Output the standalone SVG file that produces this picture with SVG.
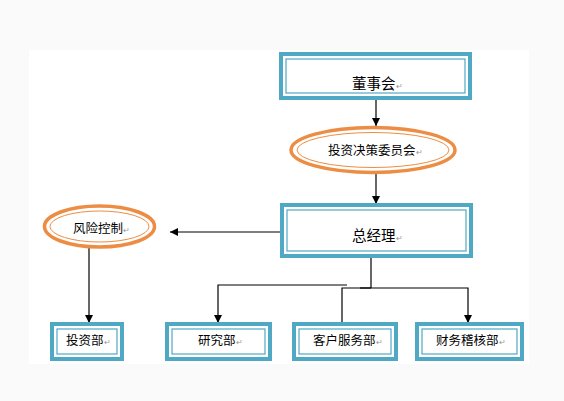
<svg xmlns="http://www.w3.org/2000/svg" width="564" height="401" viewBox="0 0 564 401">
<defs>
<marker id="ah" markerWidth="8" markerHeight="8" refX="8" refY="4" orient="auto" markerUnits="userSpaceOnUse">
<path d="M0,0 L8,4 L0,8 z" fill="#000"/>
</marker>
<style>
.bo{fill:#fff;stroke:#4fa9c4;stroke-width:4}
.bi{fill:none;stroke:#4fa9c4;stroke-width:1.2}
.eo{fill:#fff;stroke:#ec8d43;stroke-width:3.5}
.ei{fill:none;stroke:#ec8d43;stroke-width:1}
.t{font-family:"Noto Sans CJK SC","Noto Sans",sans-serif;font-size:12.5px;fill:#000}
.tl{font-size:14.5px}
.pm{font-size:8px;fill:#999}
.c{fill:none;stroke:#000;stroke-width:1.2}
</style>
</defs>
<rect x="0" y="0" width="564" height="401" fill="#fafafa"/>
<rect x="29" y="50" width="500" height="314" fill="#fff"/>

<g id="connectors">
<path class="c" d="M376,99 V126" marker-end="url(#ah)"/>
<path class="c" d="M376,173 V204" marker-end="url(#ah)"/>
<path class="c" d="M281,232 H170" marker-end="url(#ah)"/>
<path class="c" d="M89,248 V323" marker-end="url(#ah)"/>
<path class="c" d="M371,257 V288"/>
<path class="c" d="M347,285 H218 V323" marker-end="url(#ah)"/>
<path class="c" d="M342,323 V288 H468 V323" marker-end="url(#ah)"/>
<path class="c" d="M360,288 H371" stroke-width="2"/>
</g>

<g id="n-dongshihui">
<rect class="bo" x="281" y="54" width="189" height="44"/>
<rect class="bi" x="286" y="59" width="179" height="34"/>
<text class="t tl" x="352" y="89">董事会<tspan class="pm">↵</tspan></text>
</g>

<g id="n-touzijuece">
<ellipse class="eo" cx="373" cy="150" rx="82" ry="22.5"/>
<ellipse class="ei" cx="373" cy="150" rx="76" ry="17.5"/>
<text class="t" x="328" y="155">投资决策委员会<tspan class="pm">↵</tspan></text>
</g>

<g id="n-zongjingli">
<rect class="bo" x="282" y="205" width="189" height="51"/>
<rect class="bi" x="287" y="210" width="179" height="41"/>
<text class="t tl" x="352" y="241">总经理<tspan class="pm">↵</tspan></text>
</g>

<g id="n-fengxian">
<ellipse class="eo" cx="99.5" cy="226.5" rx="55" ry="20.5"/>
<ellipse class="ei" cx="99.5" cy="226.5" rx="49.5" ry="15.5"/>
<text class="t" x="73" y="233">风险控制<tspan class="pm">↵</tspan></text>
</g>

<g id="n-touzibu">
<rect class="bo" x="52" y="324" width="70" height="35"/>
<rect class="bi" x="57" y="329" width="60" height="25"/>
<text class="t" x="66" y="345">投资部<tspan class="pm">↵</tspan></text>
</g>

<g id="n-yanjiubu">
<rect class="bo" x="167" y="324" width="103" height="35"/>
<rect class="bi" x="172" y="329" width="93" height="25"/>
<text class="t" x="198" y="345">研究部<tspan class="pm">↵</tspan></text>
</g>

<g id="n-kehufuwu">
<rect class="bo" x="294" y="324" width="102" height="35"/>
<rect class="bi" x="299" y="329" width="92" height="25"/>
<text class="t" x="313" y="345">客户服务部<tspan class="pm">↵</tspan></text>
</g>

<g id="n-caiwujihe">
<rect class="bo" x="417" y="324" width="105" height="35"/>
<rect class="bi" x="422" y="329" width="95" height="25"/>
<text class="t" x="436" y="345">财务稽核部<tspan class="pm">↵</tspan></text>
</g>
</svg>
